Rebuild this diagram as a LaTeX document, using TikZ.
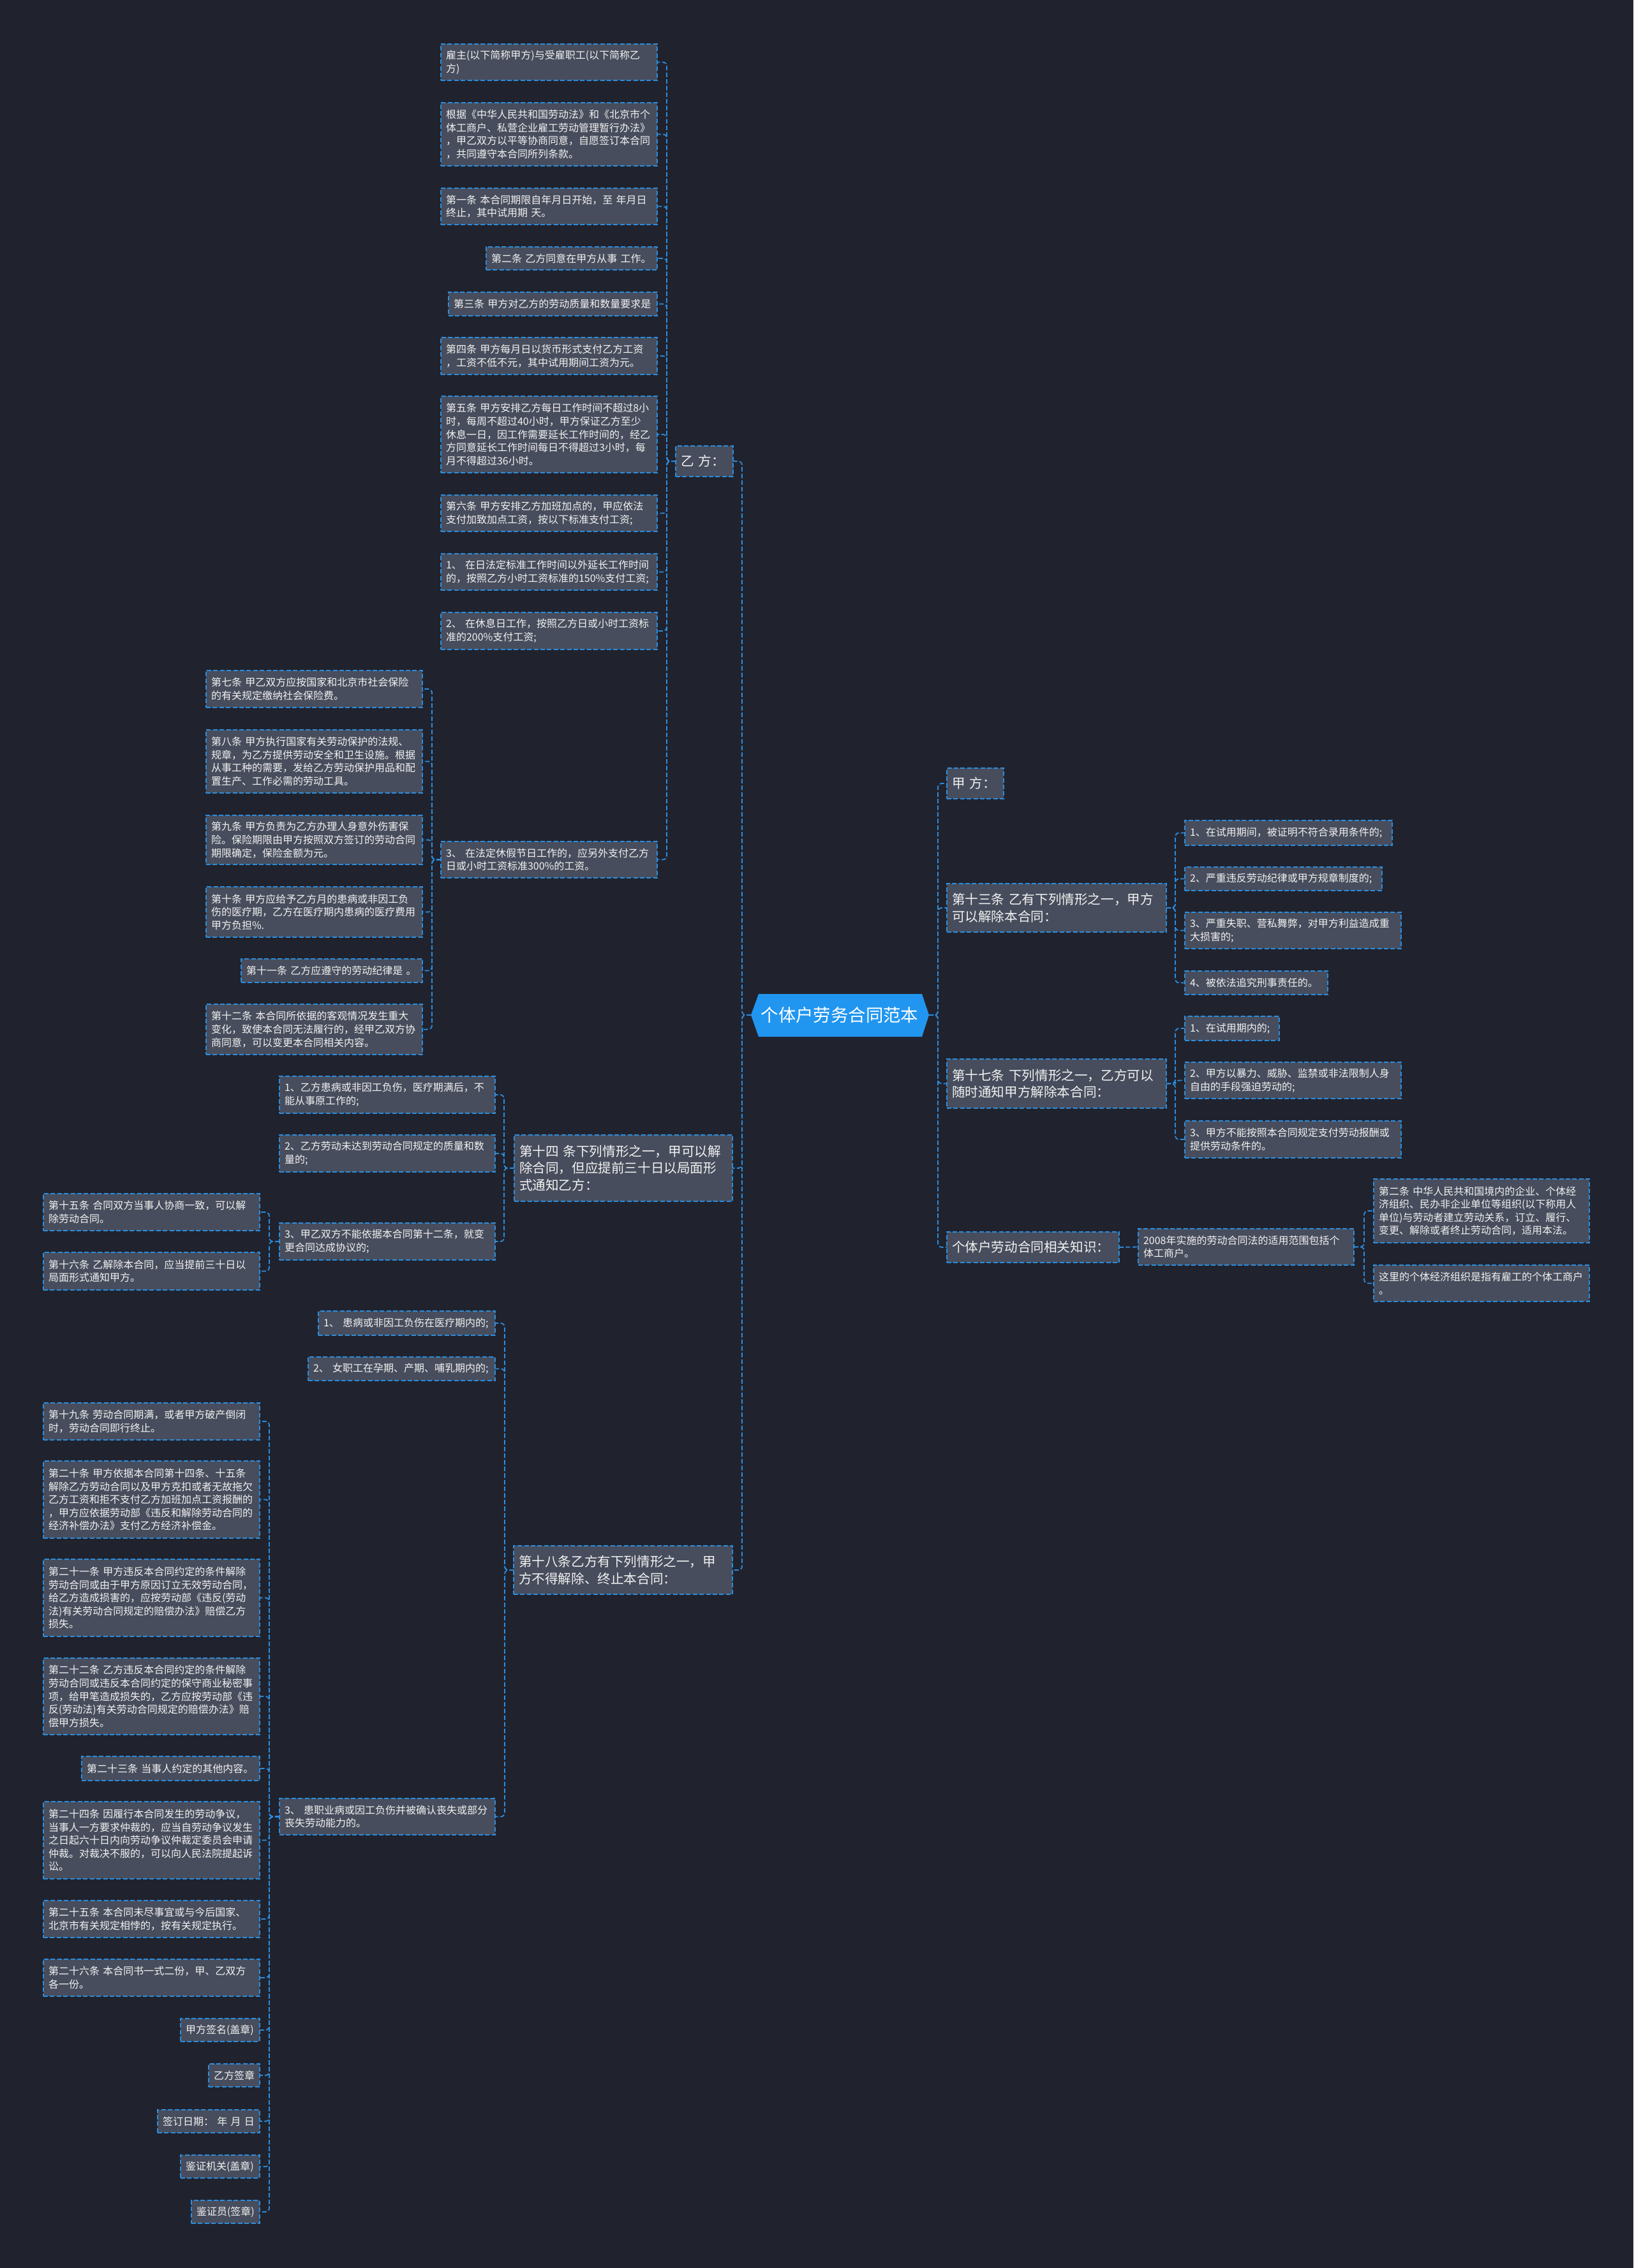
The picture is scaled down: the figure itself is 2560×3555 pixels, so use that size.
\documentclass[tikz,border=0pt]{standalone}
\usepackage{fontspec}
\setmainfont{Noto Sans CJK SC}
\definecolor{bgc}{HTML}{20232E}
\definecolor{boxc}{HTML}{474D5C}
\definecolor{bordc}{HTML}{2B8DDF}
\definecolor{linec}{HTML}{2B8DDF}
\definecolor{txtc}{HTML}{F2F2F2}
\definecolor{rootc}{HTML}{2196F0}
\tikzset{
 base/.style={draw=bordc, fill=boxc, dash pattern=on 3.5pt off 1.7pt, line width=0.9pt, text=txtc, align=left, inner xsep=4pt, inner ysep=0pt, outer sep=0pt},
 leaf/.style={base, font=\fontsize{8}{10.3}\selectfont},
 mid/.style={base, font=\fontsize{10.3}{13.3}\selectfont},
 conn/.style={draw=linec, dash pattern=on 3.5pt off 1.7pt, line width=0.9pt, rounded corners=3pt},
}
\newcommand\mbx[7]{%
  \pgfmathsetmacro\bxw{(#5-#3)*0.5}%
  \pgfmathsetmacro\bxh{(#6-#4)*0.5}%
  \pgfmathsetmacro\bxt{(#5-#3)*0.5-8}%
  \node[#2,minimum width=\bxw pt,minimum height=\bxh pt,text width=\bxt pt] (#1) at ({(#3+#5)/2},{(#4+#6)/2}) {#7};}
\begin{document}
\begin{tikzpicture}[x=0.5pt,y=-0.5pt]
\fill[bgc] (0,0) rectangle (2560,3555);
\useasboundingbox (0,0) rectangle (2560,3555);
% root
\fill[rootc] (1177,1591) -- (1189,1558) -- (1445,1558) -- (1456,1591) -- (1445,1625) -- (1189,1625) -- cycle;
\node[text=white, font=\fontsize{13.7}{16}\selectfont, inner sep=0pt] (root) at (1316,1591) {个体户劳务合同范本};
% columns
\coordinate (cL) at (1163,0);
\coordinate (cR) at (1470,0);
\coordinate (cA) at (1045,0);
\coordinate (cB) at (677,0);
\coordinate (cC) at (790,0);
\coordinate (cCc) at (422,0);
\coordinate (cD) at (791,0);
\coordinate (cDc) at (422,0);
\coordinate (cT) at (1842,0);
\coordinate (cS) at (1842,0);
\coordinate (cK) at (2138,0);
\coordinate (rootW) at (1177,1591);
\coordinate (rootE) at (1456,1591);
% ---- left: 乙方
\mbx{yf}{mid}{1059}{699}{1149}{747}{乙~方：}
\mbx{a1}{leaf}{691}{69}{1030}{126}{雇主(以下简称甲方)与受雇职工(以下简称乙\\方)}
\mbx{a2}{leaf}{691}{161}{1030}{260}{根据《中华人民共和国劳动法》和《北京市个\\体工商户、私营企业雇工劳动管理暂行办法》\\，甲乙双方以平等协商同意，自愿签订本合同\\，共同遵守本合同所列条款。}
\mbx{a3}{leaf}{691}{295}{1030}{352}{第一条~本合同期限自年月日开始，至~年月日\\终止，其中试用期~天。}
\mbx{a4}{leaf}{762}{387}{1030}{423}{第二条~乙方同意在甲方从事~工作。}
\mbx{a5}{leaf}{703}{458}{1030}{495}{第三条~甲方对乙方的劳动质量和数量要求是}
\mbx{a6}{leaf}{691}{529}{1030}{587}{第四条~甲方每月日以货币形式支付乙方工资\\，工资不低不元，其中试用期间工资为元。}
\mbx{a7}{leaf}{691}{621}{1030}{741}{第五条~甲方安排乙方每日工作时间不超过8小\\时，每周不超过40小时，甲方保证乙方至少\\休息一日，因工作需要延长工作时间的，经乙\\方同意延长工作时间每日不得超过3小时，每\\月不得超过36小时。}
\mbx{a8}{leaf}{691}{776}{1030}{833}{第六条~甲方安排乙方加班加点的，甲应依法\\支付加致加点工资，按以下标准支付工资;}
\mbx{a9}{leaf}{691}{868}{1030}{925}{1、~在日法定标准工作时间以外延长工作时间\\的，按照乙方小时工资标准的150\%支付工资;}
\mbx{a10}{leaf}{691}{960}{1030}{1018}{2、~在休息日工作，按照乙方日或小时工资标\\准的200\%支付工资;}
\mbx{a11}{leaf}{691}{1319}{1030}{1376}{3、~在法定休假节日工作的，应另外支付乙方\\日或小时工资标准300\%的工资。}
\mbx{b1}{leaf}{323}{1051}{662}{1109}{第七条~甲乙双方应按国家和北京市社会保险\\的有关规定缴纳社会保险费。}
\mbx{b2}{leaf}{323}{1144}{662}{1243}{第八条~甲方执行国家有关劳动保护的法规、\\规章，为乙方提供劳动安全和卫生设施。根据\\从事工种的需要，发给乙方劳动保护用品和配\\置生产、工作必需的劳动工具。}
\mbx{b3}{leaf}{323}{1278}{662}{1355}{第九条~甲方负责为乙方办理人身意外伤害保\\险。保险期限由甲方按照双方签订的劳动合同\\期限确定，保险金额为元。}
\mbx{b4}{leaf}{323}{1390}{662}{1469}{第十条~甲方应给予乙方月的患病或非因工负\\伤的医疗期，乙方在医疗期内患病的医疗费用\\甲方负担\%.}
\mbx{b5}{leaf}{378}{1503}{662}{1540}{第十一条~乙方应遵守的劳动纪律是~。}
\mbx{b6}{leaf}{323}{1574}{662}{1653}{第十二条~本合同所依据的客观情况发生重大\\变化，致使本合同无法履行的，经甲乙双方协\\商同意，可以变更本合同相关内容。}
% ---- 第十四条
\mbx{c}{mid}{806}{1779}{1148}{1883}{第十四~条下列情形之一，甲可以解\\除合同，但应提前三十日以局面形\\式通知乙方：}
\mbx{c1}{leaf}{438}{1687}{776}{1745}{1、乙方患病或非因工负伤，医疗期满后，不\\能从事原工作的;}
\mbx{c2}{leaf}{438}{1779}{776}{1837}{2、乙方劳动未达到劳动合同规定的质量和数\\量的;}
\mbx{c3}{leaf}{438}{1917}{776}{1975}{3、甲乙双方不能依据本合同第十二条，就变\\更合同达成协议的;}
\mbx{c31}{leaf}{68}{1871}{407}{1929}{第十五条~合同双方当事人协商一致，可以解\\除劳动合同。}
\mbx{c32}{leaf}{68}{1963}{407}{2022}{第十六条~乙解除本合同，应当提前三十日以\\局面形式通知甲方。}
% ---- 第十八条
\mbx{d}{mid}{805}{2423}{1148}{2499}{第十八条乙方有下列情形之一，甲\\方不得解除、终止本合同：}
\mbx{d1}{leaf}{499}{2055}{776}{2093}{1、~患病或非因工负伤在医疗期内的;}
\mbx{d2}{leaf}{483}{2127}{776}{2164}{2、~女职工在孕期、产期、哺乳期内的;}
\mbx{d3}{leaf}{438}{2819}{776}{2876}{3、~患职业病或因工负伤并被确认丧失或部分\\丧失劳动能力的。}
\mbx{e1}{leaf}{68}{2199}{407}{2257}{第十九条~劳动合同期满，或者甲方破产倒闭\\时，劳动合同即行终止。}
\mbx{e2}{leaf}{68}{2290}{407}{2411}{第二十条~甲方依据本合同第十四条、十五条\\解除乙方劳动合同以及甲方克扣或者无故拖欠\\乙方工资和拒不支付乙方加班加点工资报酬的\\，甲方应依据劳动部《违反和解除劳动合同的\\经济补偿办法》支付乙方经济补偿金。}
\mbx{e3}{leaf}{68}{2444}{407}{2565}{第二十一条~甲方违反本合同约定的条件解除\\劳动合同或由于甲方原因订立无效劳动合同，\\给乙方造成损害的，应按劳动部《违反(劳动\\法)有关劳动合同规定的赔偿办法》赔偿乙方\\损失。}
\mbx{e4}{leaf}{68}{2599}{407}{2719}{第二十二条~乙方违反本合同约定的条件解除\\劳动合同或违反本合同约定的保守商业秘密事\\项，给甲笔造成损失的，乙方应按劳动部《违\\反(劳动法)有关劳动合同规定的赔偿办法》赔\\偿甲方损失。}
\mbx{e5}{leaf}{128}{2753}{407}{2791}{第二十三条~当事人约定的其他内容。}
\mbx{e6}{leaf}{68}{2824}{407}{2945}{第二十四条~因履行本合同发生的劳动争议，\\当事人一方要求仲裁的，应当自劳动争议发生\\之日起六十日内向劳动争议仲裁定委员会申请\\仲裁。对裁决不服的，可以向人民法院提起诉\\讼。}
\mbx{e7}{leaf}{68}{2979}{407}{3037}{第二十五条~本合同未尽事宜或与今后国家、\\北京市有关规定相悖的，按有关规定执行。}
\mbx{e8}{leaf}{68}{3071}{407}{3129}{第二十六条~本合同书一式二份，甲、乙双方\\各一份。}
\mbx{e9}{leaf}{283}{3164}{407}{3200}{甲方签名(盖章)}
\mbx{e10}{leaf}{327}{3235}{407}{3271}{乙方签章}
\mbx{e11}{leaf}{247}{3307}{407}{3343}{签订日期：~年~月~日}
\mbx{e12}{leaf}{283}{3378}{407}{3414}{鉴证机关(盖章)}
\mbx{e13}{leaf}{300}{3449}{407}{3485}{鉴证员(签章)}
% ---- right side
\mbx{r1}{mid}{1484}{1204}{1573}{1252}{甲~方：}
\mbx{r2}{mid}{1484}{1385}{1828}{1461}{第十三条~乙有下列情形之一，甲方\\可以解除本合同：}
\mbx{r21}{leaf}{1857}{1286}{2182}{1325}{1、在试用期间，被证明不符合录用条件的;}
\mbx{r22}{leaf}{1857}{1359}{2166}{1396}{2、严重违反劳动纪律或甲方规章制度的;}
\mbx{r23}{leaf}{1857}{1430}{2196}{1487}{3、严重失职、营私舞弊，对甲方利益造成重\\大损害的;}
\mbx{r24}{leaf}{1857}{1522}{2081}{1559}{4、被依法追究刑事责任的。}
\mbx{r3}{mid}{1484}{1660}{1828}{1737}{第十七条~下列情形之一，乙方可以\\随时通知甲方解除本合同：}
\mbx{r31}{leaf}{1857}{1593}{2005}{1631}{1、在试用期内的;}
\mbx{r32}{leaf}{1857}{1665}{2196}{1722}{2、甲方以暴力、威胁、监禁或非法限制人身\\自由的手段强迫劳动的;}
\mbx{r33}{leaf}{1857}{1757}{2196}{1815}{3、甲方不能按照本合同规定支付劳动报酬或\\提供劳动条件的。}
\mbx{r4}{mid}{1484}{1931}{1754}{1979}{个体户劳动合同相关知识：}
\mbx{r41}{leaf}{1784}{1926}{2122}{1983}{2008年实施的劳动合同法的适用范围包括个\\体工商户。}
\mbx{r411}{leaf}{2153}{1848}{2491}{1948}{第二条~中华人民共和国境内的企业、个体经\\济组织、民办非企业单位等组织(以下称用人\\单位)与劳动者建立劳动关系，订立、履行、\\变更、解除或者终止劳动合同，适用本法。}
\mbx{r412}{leaf}{2153}{1983}{2491}{2040}{这里的个体经济组织是指有雇工的个体工商户\\。}
% ---- connectors
\foreach \n in {yf,c,d}{\draw[conn] (rootW) -- (rootW -| cL) |- (\n.east);}
\foreach \n in {r1,r2,r3,r4}{\draw[conn] (rootE) -- (rootE -| cR) |- (\n.west);}
\foreach \n in {a1,a2,a3,a4,a5,a6,a7,a8,a9,a10,a11}{\draw[conn] (yf.west) -- (yf.west -| cA) |- (\n.east);}
\foreach \n in {b1,b2,b3,b4,b5,b6}{\draw[conn] (a11.west) -- (a11.west -| cB) |- (\n.east);}
\foreach \n in {c1,c2,c3}{\draw[conn] (c.west) -- (c.west -| cC) |- (\n.east);}
\foreach \n in {c31,c32}{\draw[conn] (c3.west) -- (c3.west -| cCc) |- (\n.east);}
\foreach \n in {d1,d2,d3}{\draw[conn] (d.west) -- (d.west -| cD) |- (\n.east);}
\foreach \n in {e1,e2,e3,e4,e5,e6,e7,e8,e9,e10,e11,e12,e13}{\draw[conn] (d3.west) -- (d3.west -| cDc) |- (\n.east);}
\foreach \n in {r21,r22,r23,r24}{\draw[conn] (r2.east) -- (r2.east -| cT) |- (\n.west);}
\foreach \n in {r31,r32,r33}{\draw[conn] (r3.east) -- (r3.east -| cS) |- (\n.west);}
\draw[conn] (r4.east) -- (r41.west);
\foreach \n in {r411,r412}{\draw[conn] (r41.east) -- (r41.east -| cK) |- (\n.west);}
\end{tikzpicture}
\end{document}
